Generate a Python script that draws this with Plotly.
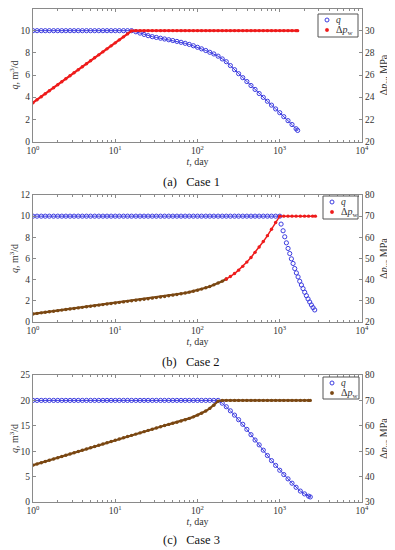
import plotly.graph_objects as go

# ---------------- data ----------------
t_grid = [1.00, 1.12, 1.26, 1.41, 1.58, 1.78, 2.00, 2.24, 2.51, 2.82,
          3.16, 3.55, 3.98, 4.47, 5.01, 5.62, 6.31, 7.08, 7.94, 8.91,
          10.0, 11.2, 12.6, 14.1, 15.8, 17.8, 20.0, 22.4, 25.1, 28.2,
          31.6, 35.5, 39.8, 44.7, 50.1, 56.2, 63.1, 70.8, 79.4, 89.1,
          100, 112, 126, 141, 158, 178, 200, 224, 251, 282,
          316, 355, 398, 447, 501, 562, 631, 708, 794, 891,
          1000, 1120, 1260, 1410, 1580, 1780, 2000, 2240, 2510]

# Case 1
t1 = t_grid[:65] + [1650]
q1 = [10, 10, 10, 10, 10, 10, 10, 10, 10, 10,
      10, 10, 10, 10, 10, 10, 10, 10, 10, 10,
      10, 10, 10, 10, 10,
      9.90, 9.78, 9.66, 9.55, 9.46, 9.39, 9.32, 9.25, 9.18, 9.11,
      9.03, 8.95, 8.86, 8.76, 8.64, 8.50, 8.36, 8.21, 8.05, 7.90,
      7.70, 7.45, 7.20, 6.85, 6.48, 6.12, 5.76, 5.41, 5.05, 4.70,
      4.33, 3.98, 3.63, 3.28, 2.94, 2.60, 2.24, 1.88, 1.53, 1.15, 1.00]
dp1 = [23.50, 23.77, 24.04, 24.31, 24.58, 24.85, 25.12, 25.39, 25.66, 25.93,
       26.20, 26.47, 26.74, 27.01, 27.28, 27.55, 27.82, 28.09, 28.36, 28.63,
       28.90, 29.17, 29.44, 29.71, 29.98,
       30, 30, 30, 30, 30, 30, 30, 30, 30, 30,
       30, 30, 30, 30, 30, 30, 30, 30, 30, 30,
       30, 30, 30, 30, 30, 30, 30, 30, 30, 30,
       30, 30, 30, 30, 30, 30, 30, 30, 30, 30, 30]

# Case 2
t2q_const = t_grid[:61]
q2_const = [10, 10, 10, 10, 10, 10, 10, 10, 10, 10,
            10, 10, 10, 10, 10, 10, 10, 10, 10, 10,
            10, 10, 10, 10, 10, 10, 10, 10, 10, 10,
            10, 10, 10, 10, 10, 10, 10, 10, 10, 10,
            10, 10, 10, 10, 10, 10, 10, 10, 10, 10,
            10, 10, 10, 10, 10, 10, 10, 10, 10, 10, 10]
t2q_decl = [1038, 1098, 1150, 1205, 1262, 1323, 1386, 1452, 1521, 1593,
            1670, 1749, 1833, 1920, 2012, 2108, 2208, 2313, 2424, 2540, 2661]
q2_decl = [9.25, 8.62, 8.05, 7.48, 6.95, 6.47, 5.97, 5.53, 5.05, 4.64,
           4.26, 3.85, 3.50, 3.16, 2.81, 2.49, 2.18, 1.89, 1.61, 1.36, 1.14]
t2p = t_grid + [2710]
dp2 = [23.80, 24.06, 24.32, 24.58, 24.84, 25.10, 25.36, 25.62, 25.88, 26.14,
       26.40, 26.66, 26.92, 27.18, 27.44, 27.70, 27.96, 28.22, 28.48, 28.74,
       29.00, 29.25, 29.50, 29.75, 30.00, 30.25, 30.50, 30.75, 31.00, 31.26,
       31.53, 31.80, 32.08, 32.38, 32.68, 33.00, 33.33, 33.70, 34.10, 34.53,
       35.00, 35.55, 36.15, 36.80, 37.55, 38.40, 39.30, 40.30, 41.50, 42.90,
       44.50, 46.30, 48.30, 50.50, 52.90, 55.40, 58.00, 60.80, 63.80, 67.00,
       70, 70, 70, 70, 70, 70, 70, 70, 70, 70]
split2 = 47  # dark early part / red late part

# Case 3
t3 = t_grid[:68] + [2350]
q3 = [20, 20, 20, 20, 20, 20, 20, 20, 20, 20,
      20, 20, 20, 20, 20, 20, 20, 20, 20, 20,
      20, 20, 20, 20, 20, 20, 20, 20, 20, 20,
      20, 20, 20, 20, 20, 20, 20, 20, 20, 20,
      20, 20, 20, 20, 20, 20,
      19.45, 18.75, 17.95, 17.10, 16.20, 15.30, 14.30, 13.25, 12.20, 11.25,
      10.20, 9.15, 8.15, 7.20, 6.25, 5.40, 4.55, 3.70, 2.90, 2.15,
      1.60, 1.15, 1.00]
dp3 = [44.50, 44.99, 45.48, 45.97, 46.46, 46.95, 47.44, 47.93, 48.42, 48.91,
       49.40, 49.89, 50.38, 50.87, 51.36, 51.85, 52.34, 52.83, 53.32, 53.81,
       54.30, 54.79, 55.27, 55.76, 56.24, 56.73, 57.21, 57.70, 58.18, 58.67,
       59.15, 59.64, 60.12, 60.55, 60.98, 61.42, 61.88, 62.38, 62.92, 63.52,
       64.20, 64.95, 65.80, 66.85, 68.10, 69.70,
       70, 70, 70, 70, 70, 70, 70, 70, 70, 70,
       70, 70, 70, 70, 70, 70, 70, 70, 70, 70,
       70, 70, 70]

x_ticks = [1, 10, 100, 1000, 10000]
x_ticktext = ["10<sup>0</sup>", "10<sup>1</sup>", "10<sup>2</sup>", "10<sup>3</sup>", "10<sup>4</sup>"]
x_minor = [2, 3, 4, 5, 6, 7, 8, 9, 20, 30, 40, 50, 60, 70, 80, 90,
           200, 300, 400, 500, 600, 700, 800, 900, 2000, 3000, 4000, 5000, 6000, 7000, 8000, 9000]
captions = ["(a)\u00a0\u00a0\u00a0Case 1", "(b)\u00a0\u00a0\u00a0Case 2", "(c)\u00a0\u00a0\u00a0Case 3"]
legend_names = ["<i>q</i>", "Δ<i>p</i><sub>w</sub>"]

# ---------------- style ----------------
FONT = "Liberation Serif, Times New Roman, serif"
BLUE = "#3d3de0"
RED = "#ee1b1b"
BROWN = "#7a4712"
AX = "#8a8a8a"
TXT = "#333333"

OFF = 8                      # page body margin of the html page
W, H = 395 - OFF, 550 - OFF  # figure size so the page fits the window
def px_(p):
    return (p - OFF) / W
def py(p):
    return 1 - (p - OFF) / H

xdom = [px_(33), px_(362)]
ydoms = [[py(141.5), py(8.5)], [py(322), py(195)], [py(502), py(375)]]
caption_y = [py(182), py(362), py(540)]
# legend boxes (left, top, right, bottom) in window pixels
leg_boxes = [(318, 14, 358, 37), (323, 196, 358, 219), (323, 377, 359, 399)]
leg_pcolor = [RED, RED, BROWN]

fig = go.Figure()

qmk = dict(symbol="circle-open", size=4.2, color=BLUE, line=dict(width=1, color=BLUE))
def pmk(c):
    return dict(symbol="circle", size=3.4, color=c)

# Panel 1
fig.add_trace(go.Scatter(x=t1, y=q1, mode="lines+markers", name="q",
                         marker=qmk, line=dict(color=BLUE, width=1),
                         xaxis="x", yaxis="y"))
fig.add_trace(go.Scatter(x=t1, y=dp1, mode="lines+markers", name="Δp_w",
                         marker=pmk(RED), line=dict(color=RED, width=2.2),
                         xaxis="x", yaxis="y2"))
# Panel 2
fig.add_trace(go.Scatter(x=t2q_const, y=q2_const, mode="lines+markers", name="q",
                         marker=qmk, line=dict(color=BLUE, width=1),
                         xaxis="x2", yaxis="y3"))
fig.add_trace(go.Scatter(x=t2q_decl, y=q2_decl, mode="markers", name="q",
                         marker=qmk, xaxis="x2", yaxis="y3"))
fig.add_trace(go.Scatter(x=t2p[:split2 + 1], y=dp2[:split2 + 1], mode="lines+markers",
                         name="Δp_w", marker=pmk(BROWN),
                         line=dict(color=BROWN, width=2.2), xaxis="x2", yaxis="y4"))
fig.add_trace(go.Scatter(x=t2p[split2:], y=dp2[split2:], mode="lines+markers",
                         name="Δp_w", marker=pmk(RED),
                         line=dict(color=RED, width=1.5), xaxis="x2", yaxis="y4"))
# Panel 3
fig.add_trace(go.Scatter(x=t3, y=q3, mode="lines+markers", name="q",
                         marker=qmk, line=dict(color=BLUE, width=1),
                         xaxis="x3", yaxis="y5"))
fig.add_trace(go.Scatter(x=t3, y=dp3, mode="lines+markers", name="Δp_w",
                         marker=pmk(BROWN), line=dict(color=BROWN, width=2.2),
                         xaxis="x3", yaxis="y6"))

tickfont = dict(family=FONT, size=9.5, color=TXT)
titlefont = dict(family=FONT, size=10, color=TXT)

def xax(anchor):
    return dict(type="log", range=[0, 4], domain=xdom, anchor=anchor, automargin=False,
                tickmode="array", tickvals=x_ticks, ticktext=x_ticktext,
                ticks="inside", ticklen=3, tickcolor=AX, showline=True, linecolor=AX,
                linewidth=1, mirror="ticks", showgrid=False, zeroline=False,
                minor=dict(tickmode="array", tickvals=x_minor, ticks="inside",
                           ticklen=2, tickcolor=AX, showgrid=False),
                tickfont=tickfont,
                title=dict(text="<i>t</i>, day", font=titlefont, standoff=1))

def yl(anchor, dom, rng, dt):
    return dict(domain=dom, anchor=anchor, range=rng, dtick=dt, tick0=rng[0], automargin=False,
                ticks="inside", ticklen=3, tickcolor=AX, showline=True, linecolor=AX,
                linewidth=1, showgrid=False, zeroline=False, tickfont=tickfont,
                title=dict(text="<i>q</i>, m<sup>3</sup>/d", font=titlefont, standoff=5))

def yr(anchor, over, rng, dt):
    return dict(overlaying=over, side="right", anchor=anchor, range=rng, dtick=dt, tick0=rng[0],
                automargin=False,
                ticks="inside", ticklen=3, tickcolor=AX, showline=True, linecolor=AX,
                linewidth=1, showgrid=False, zeroline=False, tickfont=tickfont,
                title=dict(text="Δ<i>p</i><sub>w</sub>, MPa", font=titlefont, standoff=6))

fig.update_layout(
    width=W, height=H, margin=dict(l=0, r=0, t=0, b=0, autoexpand=False),
    paper_bgcolor="white", plot_bgcolor="white",
    font=dict(family=FONT, color=TXT),
    xaxis=xax("y"),
    xaxis2=xax("y3"),
    xaxis3=xax("y5"),
    yaxis=yl("x", ydoms[0], [0, 12], 2),
    yaxis2=yr("x", "y", [20, 32], 2),
    yaxis3=yl("x2", ydoms[1], [0, 12], 2),
    yaxis4=yr("x2", "y3", [20, 80], 10),
    yaxis5=yl("x3", ydoms[2], [0, 25], 5),
    yaxis6=yr("x3", "y5", [30, 80], 10),
    showlegend=False,
)

# Captions
for i, c in enumerate(captions):
    fig.add_annotation(x=px_(191), y=caption_y[i], xref="paper", yref="paper",
                       text=c, showarrow=False, xanchor="center", yanchor="middle",
                       font=dict(family=FONT, size=12.5, color="#111111"))

# Legend boxes (drawn in paper space, like the original's small boxed legends)
for i, (l, t, r, b) in enumerate(leg_boxes):
    fig.add_shape(type="rect", xref="paper", yref="paper",
                  x0=px_(l), x1=px_(r), y0=py(b), y1=py(t),
                  line=dict(color="#555555", width=1), fillcolor="white", layer="above")
    row1 = t + 6
    row2 = t + 16
    sx = l + 9
    fig.add_shape(type="circle", xref="paper", yref="paper",
                  x0=px_(sx - 2), x1=px_(sx + 2), y0=py(row1 + 2), y1=py(row1 - 2),
                  line=dict(color=BLUE, width=1), fillcolor="rgba(0,0,0,0)", layer="above")
    fig.add_shape(type="circle", xref="paper", yref="paper",
                  x0=px_(sx - 1.7), x1=px_(sx + 1.7), y0=py(row2 + 1.7), y1=py(row2 - 1.7),
                  line=dict(color=leg_pcolor[i], width=0.5), fillcolor=leg_pcolor[i], layer="above")
    fig.add_annotation(x=px_(sx + 7), y=py(row1), xref="paper", yref="paper",
                       text=legend_names[0], showarrow=False, xanchor="left", yanchor="middle",
                       font=dict(family=FONT, size=9.5, color=TXT))
    fig.add_annotation(x=px_(sx + 7), y=py(row2), xref="paper", yref="paper",
                       text=legend_names[1], showarrow=False, xanchor="left", yanchor="middle",
                       font=dict(family=FONT, size=10, color=TXT))

fig.write_html("out.html")
